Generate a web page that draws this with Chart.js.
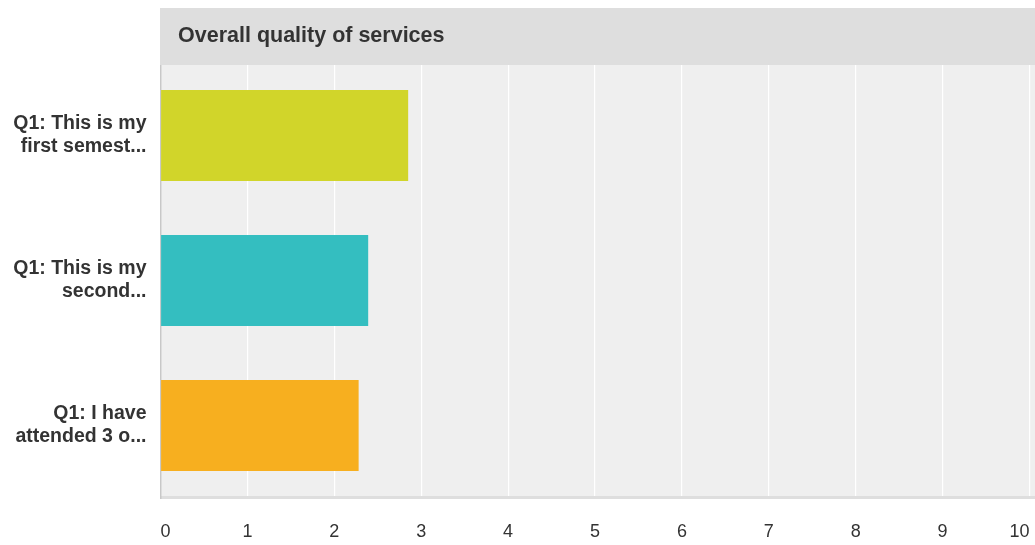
<!DOCTYPE html>
<html>
<head>
<meta charset="utf-8">
<script src="https://cdn.jsdelivr.net/npm/chart.js@4"></script>
<style>
  html, body { margin: 0; padding: 0; background: #fff; }
  #wrap { width: 1035px; height: 545px; position: relative; }
</style>
</head>
<body>
<div id="wrap"><canvas id="c" width="1035" height="545"></canvas></div>
<script>
const chartTitle = "Overall quality of services";
const categories = [
  ["Q1: This is my", "first semest..."],
  ["Q1: This is my", "second..."],
  ["Q1: I have", "attended 3 o..."]
];
const values = [2.85, 2.39, 2.28];
const barColors = ["#d1d52a", "#34bec0", "#f7af1f"];
const xTicks = [0, 1, 2, 3, 4, 5, 6, 7, 8, 9, 10];

const FONT = "'Liberation Sans', Arial, Helvetica, sans-serif";

const decor = {
  id: 'decor',
  beforeDraw(chart) {
    const { ctx, chartArea: a, width } = chart;
    ctx.save();
    ctx.fillStyle = '#efefef';
    ctx.fillRect(a.left, a.top, width - a.left, 496 - a.top);
    ctx.restore();
  },
  beforeDatasetsDraw(chart) {
    const { ctx, chartArea: a, width } = chart;
    ctx.save();
    // bottom border
    ctx.fillStyle = '#dedede';
    ctx.fillRect(a.left, 496, width - a.left, 3);
    // left border
    ctx.fillStyle = '#c8c8c8';
    ctx.fillRect(a.left - 0.5, a.top, 1.5, 499 - a.top);
    // title band
    ctx.fillStyle = '#dedede';
    ctx.fillRect(a.left - 0.5, 8, width - a.left + 1, 57);
    ctx.fillStyle = '#333333';
    ctx.font = "bold 21.5px " + FONT;
    ctx.textBaseline = 'alphabetic';
    ctx.textAlign = 'left';
    ctx.fillText(chartTitle, 178, 42);
    ctx.restore();
  }
};

new Chart(document.getElementById('c'), {
  type: 'bar',
  data: {
    labels: categories,
    datasets: [{
      data: values,
      backgroundColor: barColors,
      borderWidth: 0,
      categoryPercentage: 1,
      barPercentage: 0.628
    }]
  },
  options: {
    indexAxis: 'y',
    responsive: false,
    animation: false,
    devicePixelRatio: 1,
    layout: { padding: { top: 63, right: 5.5, left: 0, bottom: 0 } },
    plugins: {
      legend: { display: false },
      title: { display: false },
      tooltip: { enabled: false }
    },
    scales: {
      x: {
        type: 'linear',
        min: 0,
        max: 10,
        afterBuildTicks(scale) { scale.ticks = xTicks.map(v => ({ value: v })); },
        afterFit(scale) {
          scale.height = 47;
          scale.paddingLeft = 0;
          scale.paddingRight = 0;
        },
        grid: { color: '#ffffff', lineWidth: 1.2, drawTicks: false },
        border: { display: false },
        ticks: {
          align: 'inner',
          padding: 23,
          color: '#333333',
          font: { family: FONT, size: 18 },
          maxRotation: 0
        }
      },
      y: {
        afterFit(scale) { scale.width = 160.5; },
        grid: { display: false, drawTicks: false },
        border: { display: false },
        ticks: {
          padding: 14,
          color: '#333333',
          font: { family: FONT, size: 19.5, weight: 'bold', lineHeight: 1.17 }
        }
      }
    }
  },
  plugins: [decor]
});
</script>
</body>
</html>
